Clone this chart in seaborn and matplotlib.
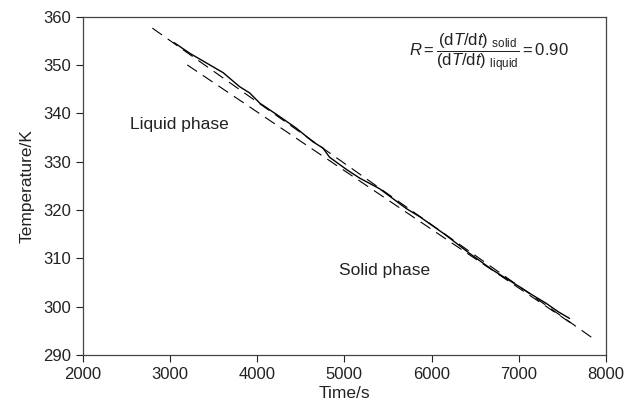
import numpy as np
import pandas as pd
import seaborn as sns
import matplotlib.pyplot as plt

# measured cooling curve (time in s, temperature in K)
time_s = [3050, 3229, 3420, 3611, 3800, 3916, 4031, 4261, 4451, 4641, 4756, 4832,
          5024, 5176, 5405, 5711, 5866, 6150, 6439, 6700, 7012, 7150, 7315, 7450, 7581]
temp_k = [354.6, 352.4, 350.4, 348.4, 345.5, 344.2, 342.1, 339.3, 336.9, 334.1, 332.8, 330.9,
          328.4, 326.6, 324.4, 320.3, 318.6, 315.0, 311.0, 307.6, 304.1, 302.5, 300.7, 299.0, 297.6]

# linear fits (end points)
liquid_t = [2800, 7880]
liquid_T = [357.6, 293.1]
solid_t = [3200, 7600]
solid_T = [350.0, 296.6]

sns.set_style("ticks")
plt.rcParams['font.family'] = ['Liberation Sans', 'DejaVu Sans']
plt.rcParams['mathtext.fontset'] = 'custom'
plt.rcParams['mathtext.rm'] = 'Liberation Sans'
plt.rcParams['mathtext.it'] = 'Liberation Sans:italic'
plt.rcParams['lines.scale_dashes'] = False

fig = plt.figure(figsize=(6.3, 4.13), dpi=100)
ax = fig.add_axes([0.131, 0.140, 0.831, 0.820])

dash = (0, (8.5, 5))
sns.lineplot(x=liquid_t, y=liquid_T, ax=ax, color='black', lw=0.8, linestyle=dash, sort=False)
sns.lineplot(x=solid_t, y=solid_T, ax=ax, color='black', lw=0.8, linestyle=dash, sort=False)
sns.lineplot(x=time_s, y=temp_k, ax=ax, color='black', lw=1.0, sort=False)

ax.set_xlim(2000, 8000)
ax.set_ylim(290, 360)
ax.set_xticks(np.arange(2000, 8001, 1000))
ax.set_yticks(np.arange(290, 361, 10))
ax.set_xlabel('Time/s', fontsize=12.5, color='#222222', labelpad=3)
ax.set_ylabel('Temperature/K', fontsize=12.5, color='#222222', labelpad=6)
ax.tick_params(direction='out', length=5, width=0.8, labelsize=12, colors='#222222',
               top=False, right=False)
for s in ax.spines.values():
    s.set_color('#444444')
    s.set_linewidth(0.9)

ax.text(2545, 337.6, 'Liquid phase', fontsize=12.5, color='#222222', va='center', ha='left')
ax.text(4940, 307.6, 'Solid phase', fontsize=12.5, color='#222222', va='center', ha='left')
ax.text(6660, 352.5,
        r'$R=\dfrac{(\mathrm{d}T/\mathrm{d}t)\ _{\mathrm{solid}}}{(\mathrm{d}T/\mathrm{d}t)\ _{\mathrm{liquid}}}=0.90$',
        fontsize=12, color='#222222', ha='center', va='center')

fig.savefig('out.png', dpi=100)
